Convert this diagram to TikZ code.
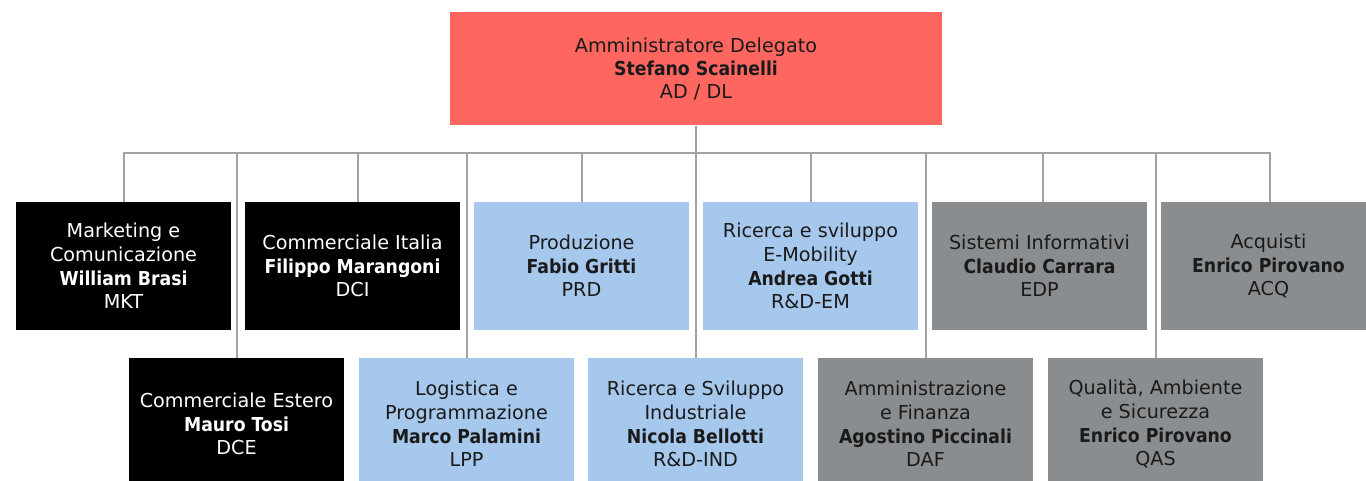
\documentclass[tikz,border=0pt]{standalone}
\usepackage{fontspec}
\setmainfont{DejaVu Sans}[BoldFont={DejaVu Sans Condensed Bold}]
\definecolor{adred}{HTML}{FF6660}
\definecolor{lblue}{HTML}{A7C8ED}
\definecolor{mgray}{HTML}{8A8D90}
\definecolor{lgray}{HTML}{A3A3A3}
\definecolor{dtext}{HTML}{1A1A1A}
\tikzset{
  box/.style={rectangle, inner sep=0pt, minimum width=215pt, align=center,
    font=\fontsize{19.2}{23.7}\selectfont},
  toprow/.style={box, minimum height=128pt},
  botrow/.style={box, minimum height=132pt},
  blackbox/.style={fill=black, text=white},
  bluebox/.style={fill=lblue, text=dtext},
  graybox/.style={fill=mgray, text=dtext},
  link/.style={draw=lgray, line width=2pt},
}
\begin{document}
\begin{tikzpicture}[x=1pt,y=-1pt]
\useasboundingbox (0,0) rectangle (1366,481);
\clip (0,0) rectangle (1366,481);
% head
\node[box, fill=adred, text=dtext, minimum width=492pt, minimum height=113pt,
  font=\fontsize{19.2}{23}\selectfont] (ad) at (696,69)
  {Amministratore Delegato\\\textbf{Stefano Scainelli}\\AD / DL};
% top row
\node[toprow, blackbox] (mkt) at (123.5,266) {Marketing e\\Comunicazione\\\textbf{William Brasi}\\MKT};
\node[toprow, blackbox] (dci) at (352.5,266) {Commerciale Italia\\\textbf{Filippo Marangoni}\\DCI};
\node[toprow, bluebox] (prd) at (581.5,266) {Produzione\\\textbf{Fabio Gritti}\\PRD};
\node[toprow, bluebox] (rem) at (810.5,266) {Ricerca e sviluppo\\E-Mobility\\\textbf{Andrea Gotti}\\R\&D-EM};
\node[toprow, graybox] (edp) at (1039.5,266) {Sistemi Informativi\\\textbf{Claudio Carrara}\\EDP};
\node[toprow, graybox] (acq) at (1268.5,266) {Acquisti\\\textbf{Enrico Pirovano}\\ACQ};
% bottom row
\node[botrow, blackbox] (dce) at (236.5,424) {Commerciale Estero\\\textbf{Mauro Tosi}\\DCE};
\node[botrow, bluebox] (lpp) at (466.5,424) {Logistica e\\Programmazione\\\textbf{Marco Palamini}\\LPP};
\node[botrow, bluebox] (rind) at (695.5,424) {Ricerca e Sviluppo\\Industriale\\\textbf{Nicola Bellotti}\\R\&D-IND};
\node[botrow, graybox] (daf) at (925.5,424) {Amministrazione\\e Finanza\\\textbf{Agostino Piccinali}\\DAF};
\node[botrow, graybox] (qas) at (1155.5,424) {Qualità, Ambiente\\e Sicurezza\\\textbf{Enrico Pirovano}\\QAS};
% bus
\coordinate (bus) at (0,153);
\draw[link] (mkt.north) -- (mkt.north |- bus) -- ([xshift=1.5pt]acq.north |- bus) -- ([xshift=1.5pt]acq.north);
\draw[link] (ad.south) -- (ad.south |- bus);
\draw[link] (dce.north) -- (dce.north |- bus);
\draw[link] ([xshift=5.5pt]dci.north) -- ([xshift=5.5pt]dci.north |- bus);
\draw[link] (lpp.north) -- (lpp.north |- bus);
\draw[link] (prd.north) -- (prd.north |- bus);
\draw[link] (rind.north) -- (rind.north |- bus);
\draw[link] (rem.north) -- (rem.north |- bus);
\draw[link] (daf.north) -- (daf.north |- bus);
\draw[link] ([xshift=3.5pt]edp.north) -- ([xshift=3.5pt]edp.north |- bus);
\draw[link] (qas.north) -- (qas.north |- bus);
\end{tikzpicture}
\end{document}
